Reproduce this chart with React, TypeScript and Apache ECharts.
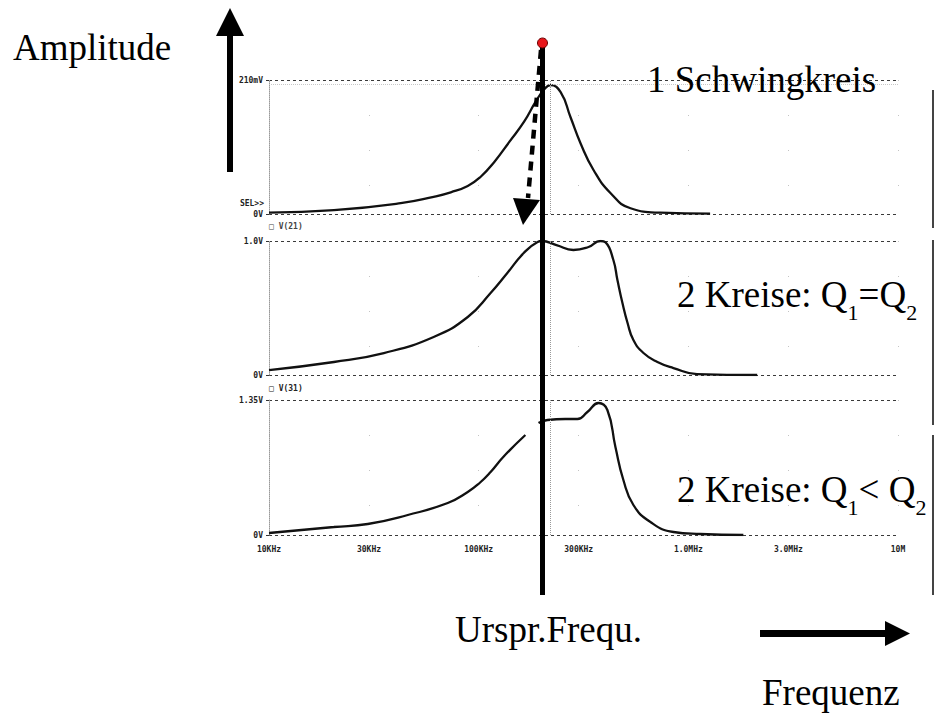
import { useEffect, useRef } from "react";
import * as echarts from "echarts";

// x-axis ticks (Hz) and their labels
const tickFreqs = [1e4, 3e4, 1e5, 3e5, 1e6, 3e6, 1e7];
const tickLabels = ["10KHz", "30KHz", "100KHz", "300KHz", "1.0MHz", "3.0MHz", "10M"];

// Panel 1: one resonant circuit, amplitude in mV, frequencies in kHz
const f1 = [10, 20.4, 42.5, 61, 73.6, 88.7, 102, 119, 140, 165, 187, 204, 220, 246, 274, 306, 353, 425, 530, 736, 1270];
const v1 = [2, 6, 17, 27, 34, 44, 58, 82, 113, 145, 176, 194, 202, 191, 152, 111, 69, 33, 9, 2, 0.5];

// Panel 2: two circuits Q1 = Q2, amplitude in V
const f2 = [10, 20.4, 35.3, 61, 88.7, 114, 137, 164, 191, 200, 235, 283, 334, 381, 403, 439, 459, 485, 513, 547, 611, 712, 849, 1100, 2130];
const v2 = [0.037, 0.097, 0.164, 0.284, 0.433, 0.612, 0.761, 0.91, 0.993, 1.0, 0.97, 0.933, 0.955, 1.0, 0.99, 0.858, 0.709, 0.537, 0.388, 0.261, 0.164, 0.097, 0.052, 0.007, 0];

// Panel 3: two circuits Q1 < Q2, amplitude in V (null = gap in trace)
const f3 = [10, 20.4, 29.6, 45.9, 71.2, 88.7, 101, 114, 131, 167, 180, 193, 213, 259, 296, 330, 373, 411, 449, 490, 547, 659, 849, 1140, 1830];
const v3 = [0.02, 0.08, 0.11, 0.2, 0.32, 0.43, 0.52, 0.63, 0.78, 1.0, null, 1.12, 1.15, 1.16, 1.16, 1.23, 1.32, 1.25, 0.88, 0.55, 0.3, 0.13, 0.03, 0.01, 0];

// panel y maxima and labels
const yMax = [210, 1.0, 1.35];
const yTopLabels = ["210mV", "1.0V", "1.35V"];

// cursor frequency (kHz)
const cursorKHz = 218;

const SERIF = '"Liberation Serif", "Times New Roman", serif';
const MONO = '"DejaVu Sans Mono", monospace';

export default function App() {
  const ref = useRef<HTMLDivElement>(null);

  useEffect(() => {
    if (!ref.current) return;
    const chart = echarts.init(ref.current, undefined, { renderer: "svg" });

    const ctx = document.createElement("canvas").getContext("2d")!;
    const measure = (t: string, size: number) => {
      ctx.font = `${size}px "Liberation Serif"`;
      return ctx.measureText(t).width;
    };

    const tickLogs = tickFreqs.map((f) => Math.log10(f));
    const fmtX = (v: number) => {
      let best = 0;
      tickLogs.forEach((t, i) => {
        if (Math.abs(t - v) < Math.abs(tickLogs[best] - v)) best = i;
      });
      return tickLabels[best];
    };

    const grids = [
      { left: 269, top: 80, width: 629, height: 134 },
      { left: 269, top: 241, width: 629, height: 134 },
      { left: 269, top: 400, width: 629, height: 135 },
    ];

    const smallLabel = {
      fontSize: 8,
      fontWeight: "bold" as const,
      fontFamily: MONO,
      color: "#222",
    };

    const xAxes = grids.map((_, i) => ({
      gridIndex: i,
      type: "value" as const,
      min: 4,
      max: 7,
      axisLine: { show: false },
      axisTick: { show: false, customValues: tickLogs },
      axisLabel: {
        show: i === 2,
        customValues: tickLogs,
        formatter: (v: number) => fmtX(v),
        margin: 10,
        ...smallLabel,
      },
      splitLine: { show: true, lineStyle: { color: "#c4c4c4", width: 1, type: [1, 34] } },
    }));

    const yAxes = grids.map((_, i) => ({
      gridIndex: i,
      type: "value" as const,
      min: 0,
      max: yMax[i],
      interval: yMax[i],
      axisLine: { show: true, onZero: false, lineStyle: { color: "#9a9a9a", type: "dotted" } },
      axisTick: { show: true, length: 3, lineStyle: { color: "#333" } },
      axisLabel: {
        formatter: (v: number) => (v === 0 ? "0V" : yTopLabels[i]),
        margin: 6,
        ...smallLabel,
      },
      splitLine: { show: true, lineStyle: { color: "#3a3a3a", width: 1, type: [3, 3] } },
    }));

    const toData = (fs: number[], vs: (number | null)[]) =>
      fs.map((f, k) => [Math.log10(f * 1000), vs[k]]);

    const cursorLine = {
      silent: true,
      symbol: "none",
      label: { show: false },
      lineStyle: { color: "#9a9a9a", type: "dotted", width: 1 },
      data: [{ xAxis: Math.log10(cursorKHz * 1000) }],
    };

    const traceStyle = { color: "#111", width: 2.3 };

    const series = [
      { data: toData(f1, v1), idx: 0 },
      { data: toData(f2, v2), idx: 1 },
      { data: toData(f3, v3), idx: 2 },
    ].map((s) => ({
      type: "line" as const,
      xAxisIndex: s.idx,
      yAxisIndex: s.idx,
      data: s.data,
      smooth: 0.5,
      showSymbol: false,
      connectNulls: false,
      lineStyle: traceStyle,
      markLine:
        s.idx === 0
          ? {
              ...cursorLine,
              data: [
                { xAxis: Math.log10(cursorKHz * 1000) },
                { yAxis: 204, lineStyle: { color: "#c8c8c8", type: "dotted" } },
              ],
            }
          : cursorLine,
    }));

    // helper for big serif texts with subscripts
    const BIG = 37;
    const SUB = 22;
    const textEl = (text: string, x: number, baseline: number, size: number) => ({
      type: "text",
      z: 100,
      x,
      y: baseline - size * 0.33,
      style: {
        text,
        fontSize: size,
        fontFamily: SERIF,
        fill: "#000",
        align: "left",
        verticalAlign: "middle",
      },
    });
    const subText = (parts: { t: string; sub?: boolean }[], x: number, baseline: number) => {
      const out: any[] = [];
      let cx = x;
      parts.forEach((p) => {
        const size = p.sub ? SUB : BIG;
        const bl = p.sub ? baseline + 13 : baseline;
        out.push(textEl(p.t, cx, bl, size));
        cx += measure(p.t, size);
      });
      return out;
    };

    const graphic: any[] = [
      // Amplitude arrow
      { type: "rect", z: 100, shape: { x: 227, y: 34, width: 6, height: 138 }, style: { fill: "#000" } },
      { type: "polygon", z: 100, shape: { points: [[230, 8], [216, 36], [244, 36]] }, style: { fill: "#000" } },
      // Frequency arrow
      { type: "rect", z: 100, shape: { x: 760, y: 630, width: 127, height: 7 }, style: { fill: "#000" } },
      { type: "polygon", z: 100, shape: { points: [[910, 633.5], [885, 621], [885, 646]] }, style: { fill: "#000" } },
      // original resonance frequency line
      { type: "rect", z: 100, shape: { x: 540, y: 43, width: 5, height: 552 }, style: { fill: "#000" } },
      // dashed arrow
      {
        type: "line",
        z: 100,
        shape: { x1: 541, y1: 50, x2: 528, y2: 198 },
        style: { stroke: "#000", lineWidth: 4.5, lineDash: [9, 7] },
      },
      { type: "polygon", z: 100, shape: { points: [[513, 198], [540, 200], [523, 225]] }, style: { fill: "#000" } },
      // red dot
      {
        type: "circle",
        z: 101,
        shape: { cx: 542.5, cy: 43, r: 5 },
        style: { fill: "#e8161b", stroke: "#6a0000", lineWidth: 1 },
      },
      // scan edge lines on the right
      { type: "line", z: 100, shape: { x1: 933, y1: 90, x2: 933, y2: 228 }, style: { stroke: "#444", lineWidth: 2 } },
      { type: "line", z: 100, shape: { x1: 933, y1: 240, x2: 933, y2: 425 }, style: { stroke: "#444", lineWidth: 2 } },
      { type: "line", z: 100, shape: { x1: 933, y1: 435, x2: 933, y2: 595 }, style: { stroke: "#444", lineWidth: 2 } },
      // big texts
      textEl("Amplitude", 13, 60, BIG),
      textEl("1 Schwingkreis", 647, 92, BIG),
      textEl("Urspr.Frequ.", 455, 642, BIG),
      textEl("Frequenz", 762, 705, BIG),
      ...subText([{ t: "2 Kreise: Q" }, { t: "1", sub: true }, { t: "=Q" }, { t: "2", sub: true }], 677, 307),
      ...subText([{ t: "2 Kreise: Q" }, { t: "1", sub: true }, { t: "< Q" }, { t: "2", sub: true }], 677, 502),
      // small PSpice labels
      {
        type: "text",
        z: 100,
        x: 264,
        y: 203,
        style: { text: "SEL>>", fontSize: 8, fontWeight: "bold", fontFamily: MONO, fill: "#222", align: "right", verticalAlign: "middle" },
      },
      {
        type: "text",
        z: 100,
        x: 269,
        y: 226,
        style: { text: "□ V(21)", fontSize: 8, fontWeight: "bold", fontFamily: MONO, fill: "#444", align: "left", verticalAlign: "middle" },
      },
      {
        type: "text",
        z: 100,
        x: 269,
        y: 388,
        style: { text: "□ V(31)", fontSize: 8, fontWeight: "bold", fontFamily: MONO, fill: "#222", align: "left", verticalAlign: "middle" },
      },
    ];

    chart.setOption({
      animation: false,
      backgroundColor: "#fff",
      grid: grids.map((g) => ({ ...g, containLabel: false, outerBoundsMode: "none" })),
      xAxis: xAxes,
      yAxis: yAxes,
      series,
      graphic,
    } as any);

    return () => chart.dispose();
  }, []);

  return (
    <div
      ref={ref}
      style={{ position: "fixed", left: 0, top: 0, width: 935, height: 713, background: "#fff" }}
    />
  );
}
